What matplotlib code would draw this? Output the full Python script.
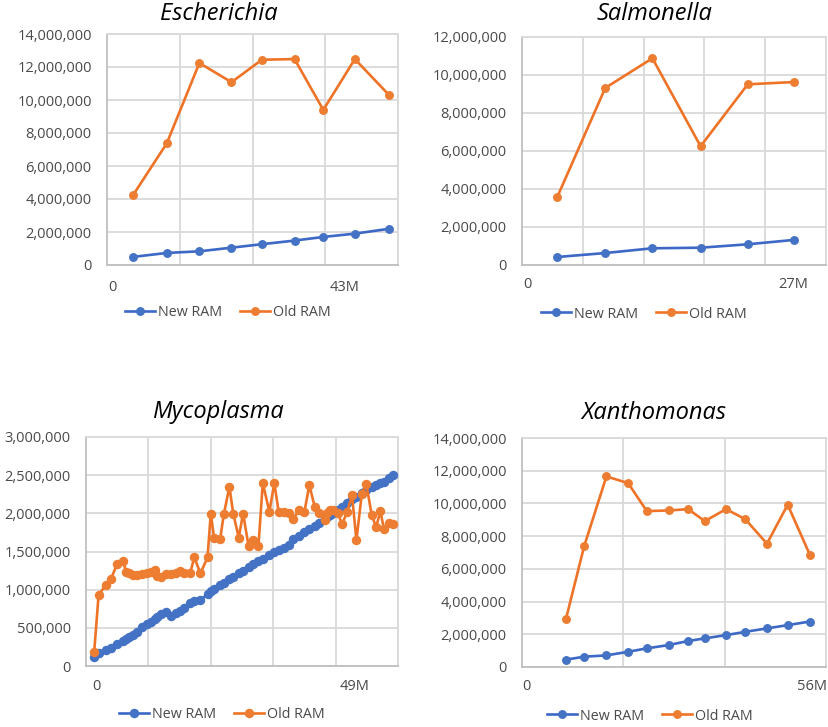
import matplotlib
matplotlib.use("Agg")
import matplotlib.pyplot as plt
from matplotlib.ticker import FuncFormatter, MultipleLocator
from matplotlib.transforms import ScaledTranslation

plt.rcParams["font.family"] = ["Open Sans", "DejaVu Sans"]

# ---------------- data (x in millions of reads, y in bytes) ----------------
esch_x = [4.7, 10.8, 16.7, 22.5, 28.0, 33.9, 39.1, 44.8, 50.9]
esch_new = [490000, 730000, 830000, 1050000, 1260000, 1480000, 1700000, 1900000, 2190000]
esch_old = [4230000, 7370000, 12240000, 11080000, 12440000, 12480000, 9400000, 12480000, 10330000]

salm_x = [3.5, 8.3, 13.0, 17.8, 22.5, 27.1]
salm_new = [420000, 630000, 880000, 910000, 1090000, 1320000]
salm_old = [3560000, 9320000, 10880000, 6250000, 9510000, 9630000]

myco_x = [1.5, 2.3, 3.6, 4.5, 5.7, 6.8, 7.3, 7.9, 8.5, 9.4,
          10.3, 11.1, 11.8, 12.6, 12.9, 13.7, 14.6, 15.5, 16.4, 17.2,
          17.9, 19.0, 19.8, 20.9, 22.2, 22.8, 23.4, 24.5, 25.2, 26.2,
          26.9, 27.9, 28.7, 29.7, 30.6, 31.5, 32.3, 33.5, 34.4, 35.2,
          36.1, 37.0, 37.9, 38.9, 39.9, 40.8, 41.8, 42.6, 43.6, 44.0,
          44.6, 45.2, 46.0, 46.8, 47.7, 48.6, 49.4, 50.4, 51.2, 52.2,
          53.0, 53.8, 54.4, 55.3, 56.0]
myco_new = [113000, 166000, 209000, 231000, 288000, 331000, 349000, 375000, 401000, 449000,
            506000, 545000, 580000, 619000, 637000, 676000, 708000, 654000, 689000, 724000,
            763000, 820000, 855000, 863000, 942000, 981000, 1007000, 1064000, 1090000, 1134000,
            1169000, 1217000, 1251000, 1299000, 1330000, 1378000, 1400000, 1456000, 1491000, 1517000,
            1552000, 1583000, 1670000, 1701000, 1757000, 1792000, 1840000, 1875000, 1927000, 1949000,
            1984000, 2010000, 2041000, 2084000, 2132000, 2185000, 2220000, 2267000, 2302000, 2342000,
            2372000, 2398000, 2416000, 2468000, 2499000]
myco_old = [188000, 929000, 1060000, 1134000, 1334000, 1378000, 1234000, 1212000, 1190000, 1190000,
            1204000, 1212000, 1234000, 1256000, 1177000, 1169000, 1204000, 1204000, 1221000, 1238000,
            1212000, 1212000, 1422000, 1212000, 1422000, 1997000, 1679000, 1661000, 1997000, 2346000,
            1997000, 1683000, 1997000, 1570000, 1648000, 1570000, 2398000, 2019000, 2398000, 2019000,
            2019000, 2010000, 1932000, 2041000, 2019000, 2368000, 2084000, 2006000, 1919000, 2006000,
            2049000, 2049000, 2006000, 1858000, 2019000, 2237000, 1648000, 2259000, 2390000, 1975000,
            1823000, 2028000, 1801000, 1875000, 1858000]

xant_x = [8.5, 12.0, 16.3, 20.5, 24.1, 28.3, 32.1, 35.3, 39.4, 43.1, 47.3, 51.3, 55.6]
xant_new = [450000, 630000, 710000, 930000, 1140000, 1340000, 1590000, 1750000, 1950000,
            2150000, 2360000, 2560000, 2780000]
xant_old = [2950000, 7380000, 11650000, 11240000, 9530000, 9570000, 9650000, 8920000, 9650000,
            9040000, 7540000, 9920000, 6850000]

titles = ["Escherichia", "Salmonella", "Mycoplasma", "Xanthomonas"]
tick_labels = [["0", "43M"], ["0", "27M"], ["0", "49M"], ["0", "56M"]]
label_pos = [[0, 43], [0, 27], [0, 49], [0, 56]]

# ---------------- styling ----------------
W, H = 829, 727
BLUE = "#3d68c6"
ORANGE = "#ee7326"
GRID = "#d9d9d9"
TICK = "#4a4a4a"

fig = plt.figure(figsize=(W / 100, H / 100), dpi=100)


def fig_rect(l, t, r, b):
    return [l / W, 1 - b / H, (r - l) / W, (b - t) / H]


panels = [
    dict(rect=(107, 34, 398, 265), xs=esch_x, new=esch_new, old=esch_old, xmax=52.6,
         ngrid=4, ymax=14e6, ystep=2e6, title_xy=(219, 14), leg=(125, 313), xpad=11,
         zero_shift=5, ms=5.4),
    dict(rect=(522, 37, 826, 265), xs=salm_x, new=salm_new, old=salm_old, xmax=30.3,
         ngrid=5, ymax=12e6, ystep=2e6, title_xy=(654, 14), leg=(541, 314), xpad=9,
         zero_shift=5, ms=5.4),
    dict(rect=(86, 437, 398, 666), xs=myco_x, new=myco_new, old=myco_old, xmax=57.0,
         ngrid=5, ymax=3e6, ystep=5e5, title_xy=(218, 412), leg=(119, 715), xpad=9,
         zero_shift=10, ms=5.8),
    dict(rect=(522, 438, 826, 667), xs=xant_x, new=xant_new, old=xant_old, xmax=58.7,
         ngrid=3, ymax=14e6, ystep=2e6, title_xy=(654, 413), leg=(547, 716), xpad=9,
         zero_shift=4, ms=5.4),
]

for i, p in enumerate(panels):
    ax = fig.add_axes(fig_rect(*p["rect"]))
    ax.plot(p["xs"], p["new"], color=BLUE, lw=1.9, marker="o", ms=p["ms"],
            mfc="#4472c4", mec="#4472c4", label="New RAM", zorder=3)
    ax.plot(p["xs"], p["old"], color=ORANGE, lw=1.9, marker="o", ms=p["ms"],
            mfc="#ed7d31", mec="#ed7d31", label="Old RAM", zorder=3)

    ax.set_xlim(0, p["xmax"])
    ax.set_ylim(0, p["ymax"])

    # vertical gridlines split the x range evenly; labels sit on their own ticks
    ax.xaxis.set_minor_locator(MultipleLocator(p["xmax"] / p["ngrid"]))
    ax.set_xticks(label_pos[i])
    ax.set_xticklabels(tick_labels[i])
    ax.yaxis.set_major_locator(MultipleLocator(p["ystep"]))
    ax.yaxis.set_major_formatter(FuncFormatter(lambda v, _: f"{v:,.0f}"))

    ax.grid(True, axis="y", which="major", color=GRID, lw=1.3)
    ax.grid(True, axis="x", which="minor", color=GRID, lw=1.3)
    ax.set_axisbelow(True)
    ax.tick_params(axis="both", which="both", length=0, labelsize=10.5, colors=TICK)
    ax.tick_params(axis="y", pad=11)
    ax.tick_params(axis="x", pad=p["xpad"])
    zero_lbl = ax.get_xticklabels()[0]
    zero_lbl.set_transform(zero_lbl.get_transform() +
                           ScaledTranslation(p["zero_shift"] / 100, 0, fig.dpi_scale_trans))
    for side in ["left", "bottom"]:
        ax.spines[side].set_color("#bfbfbf")
        ax.spines[side].set_linewidth(1.3)
    for side in ["top", "right"]:
        ax.spines[side].set_color(GRID)
        ax.spines[side].set_linewidth(1.3)

    tx, ty = p["title_xy"]
    fig.text(tx / W, 1 - ty / H, titles[i], ha="center", va="center",
             fontsize=17, style="italic", color="black")

    lx, ly = p["leg"]
    leg = ax.legend(loc="center left", bbox_to_anchor=(lx / W, 1 - ly / H),
                    bbox_transform=fig.transFigure, ncol=2, frameon=False,
                    fontsize=10.3, handlelength=2.1, handletextpad=0.2,
                    columnspacing=1.25, borderpad=0, borderaxespad=0)
    for t in leg.get_texts():
        t.set_color(TICK)

fig.savefig("out.png", dpi=100, facecolor="white")
